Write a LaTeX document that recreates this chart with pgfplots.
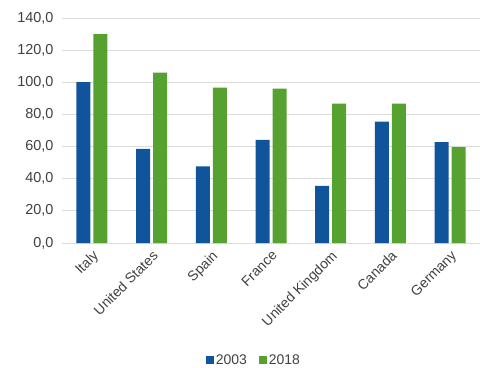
\documentclass[border=0pt]{standalone}
\usepackage{pgfplots}
\pgfplotsset{compat=1.18}
\usepackage{fontspec}
\setmainfont{Liberation Sans}
\definecolor{cblue}{RGB}{16,84,156}
\definecolor{cgreen}{RGB}{86,162,48}
\definecolor{cgrid}{RGB}{220,220,220}
\definecolor{ctext}{RGB}{64,64,64}
\begin{document}
\begin{tikzpicture}[x=1bp,y=1bp]
\useasboundingbox (0,0) rectangle (480,367);
\begin{axis}[
  at={(62bp,124bp)}, anchor=south west,
  scale only axis,
  width=418bp, height=225bp,
  ybar=3bp, bar width=14bp,
  xmin=-0.5, xmax=6.5,
  ymin=0, ymax=140,
  ytick={0,20,...,140},
  xtick={0,...,6},
  xticklabels={Italy,United States,Spain,France,United Kingdom,Canada,Germany},
  xticklabel style={rotate=45, anchor=north east, inner sep=1pt, font=\fontsize{14}{16}\selectfont, text=ctext},
  yticklabel style={font=\fontsize{14.5}{16}\selectfont, text=ctext},
  /pgf/number format/assume math mode=true,
  /pgf/number format/.cd, fixed, fixed zerofill, precision=1, use comma, 1000 sep={},
  /pgfplots/.cd,
  ymajorgrids, grid style={cgrid, line width=0.8pt},
  axis x line*=bottom, axis y line*=left,
  x axis line style={cgrid, line width=0.8pt, -},
  y axis line style={draw=none},
  major tick length=0pt,
  yticklabel shift=5bp,
  xticklabel shift=5bp,
  legend style={at={(0.459,-0.52)}, anchor=center, draw=none, fill=none, legend columns=-1,
    font=\fontsize{14}{16}\selectfont, text=ctext, inner sep=0pt,
    /tikz/every odd column/.append style={column sep=0bp},
    /tikz/every even column/.append style={column sep=10bp}},
  legend image code/.code={\fill[#1] (0bp,-4bp) rectangle (8bp,4bp);},
]
\addplot[fill=cblue, draw=none] coordinates {(0,100.1) (1,58.5) (2,47.7) (3,64.1) (4,35.6) (5,75.5) (6,62.8)};
\addplot[fill=cgreen, draw=none] coordinates {(0,130.0) (1,106.0) (2,96.7) (3,96.1) (4,86.7) (5,86.7) (6,59.7)};
\legend{2003,2018}
\end{axis}
\end{tikzpicture}
\end{document}
